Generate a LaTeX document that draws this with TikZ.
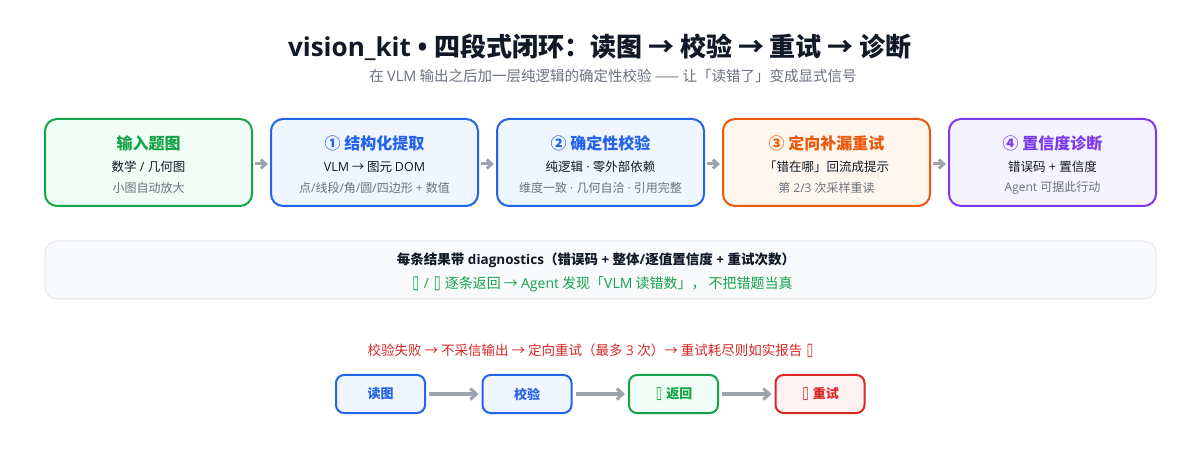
\documentclass[tikz,border=0pt]{standalone}
\usepackage{fontspec}
\setmainfont{Noto Sans CJK SC}
\newfontfamily\symfont{DejaVu Sans}
\newfontfamily\lat{Open Sans}
\usetikzlibrary{arrows.meta}
\definecolor{cgreen}{HTML}{16A34A}
\definecolor{cgreenbg}{HTML}{F0FDF4}
\definecolor{cblue}{HTML}{2563EB}
\definecolor{cbluebg}{HTML}{EFF6FF}
\definecolor{corange}{HTML}{EA580C}
\definecolor{corangebg}{HTML}{FFF7ED}
\definecolor{cpurple}{HTML}{7C3AED}
\definecolor{cpurplebg}{HTML}{F5F3FF}
\definecolor{cred}{HTML}{DC2626}
\definecolor{credbg}{HTML}{FEF2F2}
\definecolor{cdark}{HTML}{111827}
\definecolor{cgray}{HTML}{6B7280}
\definecolor{clgray}{HTML}{9CA3AF}
\definecolor{cline}{HTML}{E5E7EB}
\definecolor{cpanel}{HTML}{F8FAFC}
\newcommand{\tofu}{\makebox[9pt]{\symfont\scalebox{0.9}[1.3]{▯}}}
\newcommand{\LT}[1]{{\lat #1}}
\tikzset{
  bigbox/.style={draw, line width=2pt, rounded corners=12pt, minimum width=207pt, minimum height=87pt, inner sep=0pt},
  smallbox/.style={draw, line width=2pt, rounded corners=8pt, minimum width=89pt, minimum height=38pt, inner sep=0pt, font=\fontsize{13}{15}\selectfont\bfseries},
  boxtitle/.style={font=\fontsize{16}{19}\selectfont\bfseries, inner sep=0pt},
  boxmain/.style={font=\fontsize{12.5}{15}\selectfont, text=cdark, inner sep=0pt},
  boxsub/.style={font=\fontsize{12}{14}\selectfont, text=cgray, inner sep=0pt},
  flowarrow/.style={draw=clgray, line width=3pt, -{Straight Barb[length=5pt,width=9pt]}},
  bigarrow/.style={draw=clgray, line width=3pt, -{Straight Barb[length=6pt,width=11pt]}},
}
\begin{document}
\begin{tikzpicture}[x=1pt,y=-1pt]
\useasboundingbox[fill=white] (0,0) rectangle (1200,470);
% title
\node[font=\fontsize{26}{30}\selectfont\bfseries, text=cdark, inner sep=0pt] (title) at (600,47) {\LT{vision\_kit • }四段式闭环：读图 → 校验 → 重试 → 诊断};
\node[font=\fontsize{14.5}{17}\selectfont, text=cgray, inner sep=0pt] (subtitle) at (613,76) {在 \LT{VLM} 输出之后加一层纯逻辑的确定性校验 —— 让「读错了」变成显式信号};
% row 1 boxes
\node[bigbox, draw=cgreen, fill=cgreenbg] (b1) at (148.5,162.5) {};
\node[bigbox, draw=cblue, fill=cbluebg] (b2) at (374.5,162.5) {};
\node[bigbox, draw=cblue, fill=cbluebg] (b3) at (600.5,162.5) {};
\node[bigbox, draw=corange, fill=corangebg] (b4) at (826.5,162.5) {};
\node[bigbox, draw=cpurple, fill=cpurplebg] (b5) at (1052.5,162.5) {};
% texts
\node[boxtitle, text=cgreen] (t1) at (148.5,143) {输入题图};
\node[boxmain] (m1) at (148.5,167) {数学\LT{ / }几何图};
\node[boxsub] (s1) at (148.5,188) {小图自动放大};
\node[boxtitle, text=cblue] (t2) at (374.5,143) {① 结构化提取};
\node[boxmain] (m2) at (374.5,167) {\LT{VLM} → 图元 \LT{DOM}};
\node[boxsub] (s2) at (374.5,188) {点\LT{/}线段\LT{/}角\LT{/}圆\LT{/}四边形\LT{ + }数值};
\node[boxtitle, text=cblue] (t3) at (600.5,143) {② 确定性校验};
\node[boxmain] (m3) at (600.5,167) {纯逻辑\LT{ · }零外部依赖};
\node[boxsub] (s3) at (600.5,188) {维度一致\LT{ · }几何自洽\LT{ · }引用完整};
\node[boxtitle, text=corange] (t4) at (826.5,143) {③ 定向补漏重试};
\node[boxmain] (m4) at (826.5,167) {「错在哪」回流成提示};
\node[boxsub] (s4) at (826.5,188) {第\LT{ 2/3 }次采样重读};
\node[boxtitle, text=cpurple] (t5) at (1052.5,143) {④ 置信度诊断};
\node[boxmain] (m5) at (1052.5,167) {错误码\LT{ + }置信度};
\node[boxsub] (s5) at (1052.5,188) {\LT{Agent }可据此行动};
% arrows row1
\draw[flowarrow] ([xshift=2pt,yshift=-1.5pt]b1.east) -- ([xshift=-2pt,yshift=-1.5pt]b2.west);
\draw[flowarrow] ([xshift=2pt,yshift=-1.5pt]b2.east) -- ([xshift=-2pt,yshift=-1.5pt]b3.west);
\draw[flowarrow] ([xshift=2pt,yshift=-1.5pt]b3.east) -- ([xshift=-2pt,yshift=-1.5pt]b4.west);
\draw[flowarrow] ([xshift=2pt,yshift=-1.5pt]b4.east) -- ([xshift=-2pt,yshift=-1.5pt]b5.west);
% diagnostics panel
\node[draw=cline, line width=1pt, fill=cpanel, rounded corners=12pt, minimum width=1111pt, minimum height=58pt, inner sep=0pt] (diag) at (600.5,270) {};
\node[font=\fontsize{13.5}{15}\selectfont\bfseries, text=cdark, inner sep=0pt] (d1) at (596,260) {每条结果带\LT{ diagnostics}（错误码\LT{ + }整体\LT{/}逐值置信度\LT{ + }重试次数）};
\node[font=\fontsize{14}{16}\selectfont, text=cgreen, inner sep=0pt] (d2) at (602,284) {\tofu\LT{ / }\tofu\ 逐条返回 → \LT{Agent} 发现「\LT{VLM} 读错数」，\ 不把错题当真};
% red line
\node[font=\fontsize{13.5}{16}\selectfont, text=cred, inner sep=0pt] (rl) at (591,351) {校验失败 → 不采信输出 → 定向重试（最多\LT{ 3 }次）→ 重试耗尽则如实报告 \tofu};
% bottom row
\node[smallbox, draw=cblue, fill=cbluebg, text=cblue] (r1) at (380.5,394) {读图};
\node[smallbox, draw=cblue, fill=cbluebg, text=cblue] (r2) at (527,394) {校验};
\node[smallbox, draw=cgreen, fill=cgreenbg, text=cgreen] (r3) at (673.5,394) {\tofu{} 返回};
\node[smallbox, draw=cred, fill=credbg, text=cred] (r4) at (820,394) {\tofu{} 重试};
\draw[bigarrow] ([xshift=3pt]r1.east) -- ([xshift=-3pt]r2.west);
\draw[bigarrow] ([xshift=3pt]r2.east) -- ([xshift=-3pt]r3.west);
\draw[bigarrow] ([xshift=3pt]r3.east) -- ([xshift=-3pt]r4.west);
\end{tikzpicture}
\end{document}
